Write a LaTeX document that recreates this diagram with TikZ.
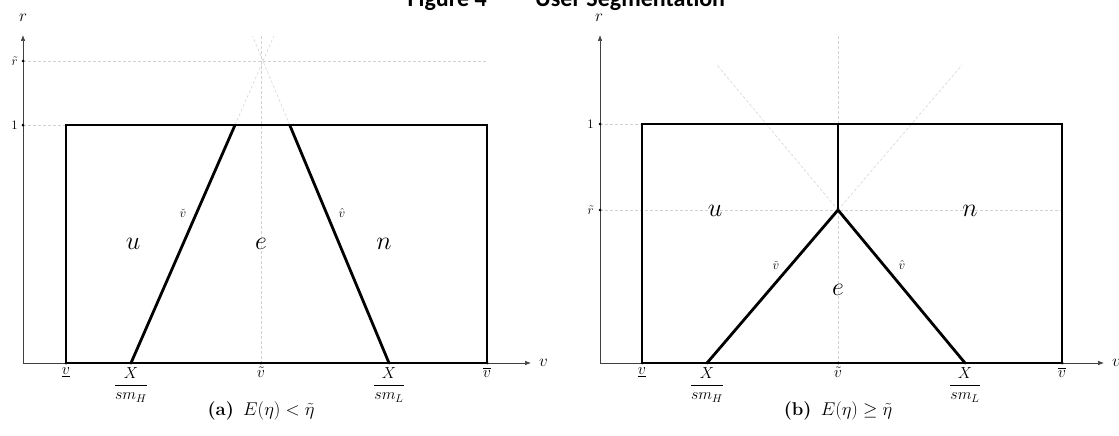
\RequirePackage{fix-cm}
\documentclass[tikz,border=0pt]{standalone}
\usepackage{amsmath}
\usepackage{fontspec}
\newfontfamily\titlefont{Carlito}
\usetikzlibrary{arrows.meta,calc}
\begin{document}
\begin{tikzpicture}[x=1pt,y=-1pt,
  axis/.style={draw=black!75, line width=0.6pt, -{Latex[length=6pt,width=4.5pt]}},
  boundary/.style={draw=black, line width=2.8pt, line join=miter},
  guide/.style={draw=black!18, line width=0.5pt, dash pattern=on 3pt off 2pt},
  tickdot/.style={circle, fill=black, inner sep=0pt, minimum size=3pt},
  ticklbl/.style={font=\fontsize{16}{18}\selectfont, anchor=north, inner sep=1pt},
  ylbl/.style={font=\fontsize{13}{15}\selectfont, anchor=east, inner sep=1pt},
  axlbl/.style={font=\fontsize{17}{19}\selectfont, inner sep=1pt},
  region/.style={font=\fontsize{26}{30}\selectfont, inner sep=0pt},
  edgelbl/.style={font=\fontsize{13}{15}\selectfont, inner sep=0pt},
  caption/.style={font=\fontsize{18.5}{21}\selectfont, inner sep=0pt},
  titletext/.style={font=\titlefont\bfseries\fontsize{24}{28}\selectfont, inner sep=0pt}
]
\useasboundingbox (0,0) rectangle (1119,436);

% title
\node[titletext, anchor=base east] (fig) at (487,7) {Figure 4};
\node[titletext, anchor=base west] (ttl) at (535,7) {User Segmentation};

%================ panel (a) ================
\coordinate (O1) at (23,363);
\coordinate (Y1) at (23,35);
\coordinate (X1) at (531,363);
\coordinate (A1) at (263,61);
\coordinate (L1) at (131,363);
\coordinate (R1) at (389,363);
\coordinate (TL1) at ($(L1)!0.788!(A1)$);
\coordinate (TR1) at ($(R1)!0.788!(A1)$);
\coordinate (EL1) at ($(L1)!1.083!(A1)$);
\coordinate (ER1) at ($(R1)!1.083!(A1)$);
\coordinate (BL1) at (66,363);
\coordinate (BR1) at (487,363);
\coordinate (UL1) at (66,125);
\coordinate (UR1) at (487,125);
\coordinate (VT1) at (261,36);
\coordinate (VB1) at (261,363);
\coordinate (RT1) at (23,61);
\coordinate (RE1) at (487,61);
\coordinate (OT1) at (23,125);

% guides
\draw[guide] (RT1) -- (RE1);
\draw[guide] (OT1) -- (UL1);
\draw[guide] (VT1) -- (VB1);
\draw[guide] (TL1) -- (EL1);
\draw[guide] (TR1) -- (ER1);

% axes
\draw[axis] (O1) -- (Y1);
\draw[axis] (O1) -- (X1);
\node[axlbl] (r1) at (23,18) {$r$};
\node[axlbl, anchor=west] (v1) at (538,363) {$v$};

% regions
\draw[boundary] (BL1) -- (UL1) -- (UR1) -- (BR1) -- cycle;
\draw[boundary] (L1) -- (TL1);
\draw[boundary] (R1) -- (TR1);

% ticks
\foreach \x/\n in {66/a,131/b,261/c,389/d,487/e}
  \node[tickdot] (t1\n) at (\x,363) {};
\node[tickdot] (ty1a) at (RT1) {};
\node[tickdot] (ty1b) at (OT1) {};

\node[ticklbl] (l1a) at (66,366) {$\underline{v}$};
\node[ticklbl] (l1b) at (131,366) {$\dfrac{X}{sm_H}$};
\node[ticklbl] (l1c) at (261,366) {$\tilde{v}$};
\node[ticklbl] (l1d) at (389,366) {$\dfrac{X}{sm_L}$};
\node[ticklbl] (l1e) at (487,366) {$\overline{v}$};
\node[ylbl] (ly1a) at (19,61) {$\tilde{r}$};
\node[ylbl] (ly1b) at (19,125) {$1$};

\node[region] (u1) at (133,244) {$u$};
\node[region] (e1) at (261,244) {$e$};
\node[region] (n1) at (384,244) {$n$};
\node[edgelbl] (vc1) at (183,213) {$\check{v}$};
\node[edgelbl] (vh1) at (342,213) {$\hat{v}$};

\node[caption] (cap1) at (261,411) {\textbf{(a)}\enspace$E(\eta) < \tilde{\eta}$};

%================ panel (b) ================
\coordinate (O2) at (600,363);
\coordinate (Y2) at (600,35);
\coordinate (X2) at (1104,363);
\coordinate (A2) at (838,210);
\coordinate (L2) at (707,363);
\coordinate (R2) at (965,363);
\coordinate (EL2) at (717,65);
\coordinate (ER2) at (962,65);
\coordinate (BL2) at (642,363);
\coordinate (BR2) at (1062,363);
\coordinate (UL2) at (642,124);
\coordinate (UR2) at (1062,124);
\coordinate (UM2) at (838,124);
\coordinate (VT2) at (838,36);
\coordinate (VB2) at (838,363);
\coordinate (RT2) at (600,210);
\coordinate (RE2) at (1062,210);
\coordinate (OT2) at (600,124);

% guides
\draw[guide] (RT2) -- (RE2);
\draw[guide] (OT2) -- (UL2);
\draw[guide] (VT2) -- (VB2);
\draw[guide] (A2) -- (EL2);
\draw[guide] (A2) -- (ER2);

% axes
\draw[axis] (O2) -- (Y2);
\draw[axis] (O2) -- (X2);
\node[axlbl] (r2) at (599,18) {$r$};
\node[axlbl, anchor=west] (v2) at (1111,363) {$v$};

% regions
\draw[boundary] (BL2) -- (UL2) -- (UR2) -- (BR2) -- cycle;
\draw[boundary] (L2) -- (A2) -- (R2);
\draw[boundary] (A2) -- (UM2);

% ticks
\foreach \x/\n in {642/a,707/b,838/c,965/d,1062/e}
  \node[tickdot] (t2\n) at (\x,363) {};
\node[tickdot] (ty2a) at (RT2) {};
\node[tickdot] (ty2b) at (OT2) {};

\node[ticklbl] (l2a) at (642,366) {$\underline{v}$};
\node[ticklbl] (l2b) at (707,366) {$\dfrac{X}{sm_H}$};
\node[ticklbl] (l2c) at (838,366) {$\tilde{v}$};
\node[ticklbl] (l2d) at (965,366) {$\dfrac{X}{sm_L}$};
\node[ticklbl] (l2e) at (1062,366) {$\overline{v}$};
\node[ylbl] (ly2a) at (595,210) {$\tilde{r}$};
\node[ylbl] (ly2b) at (595,124) {$1$};

\node[region] (u2) at (715,211) {$u$};
\node[region] (e2) at (838,290) {$e$};
\node[region] (n2) at (970,211) {$n$};
\node[edgelbl] (vc2) at (776,265) {$\check{v}$};
\node[edgelbl] (vh2) at (902,265) {$\hat{v}$};

\node[caption] (cap2) at (838,411) {\textbf{(b)}\enspace$E(\eta) \geq \tilde{\eta}$};
\end{tikzpicture}
\end{document}
